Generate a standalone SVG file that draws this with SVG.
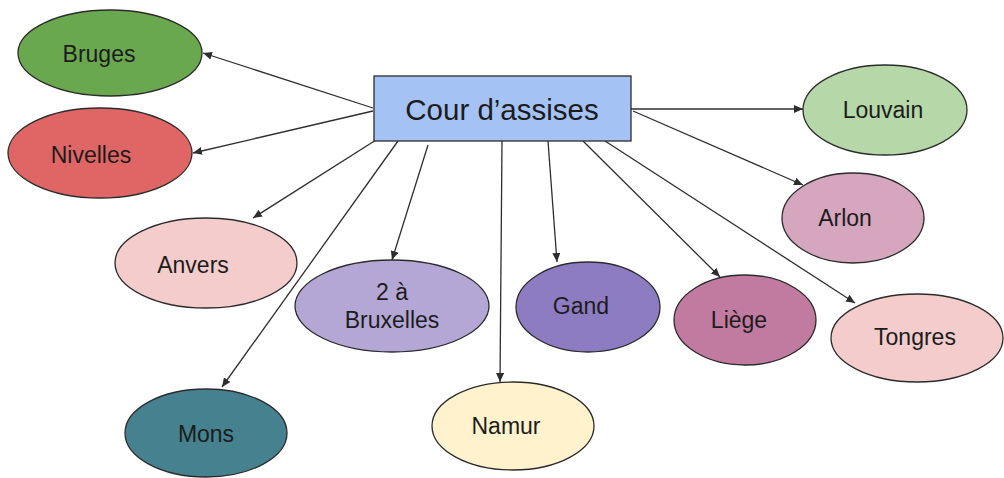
<svg xmlns="http://www.w3.org/2000/svg" width="1004" height="478" viewBox="0 0 1004 478">
  <style>
    .node ellipse { stroke: #2b2b2b; stroke-width: 1.3; }
    .lbl { font-family: "Liberation Sans", Arial, sans-serif; font-size: 23px; fill: #1c1c1c; text-anchor: middle; }
    .title { font-family: "Liberation Sans", Arial, sans-serif; font-size: 29.5px; fill: #1c1c1c; text-anchor: middle; }
    .edge { stroke: #2e2e2e; stroke-width: 1.3; fill: none; marker-end: url(#arr); }
  </style>
  <defs>
    <marker id="arr" markerUnits="userSpaceOnUse" markerWidth="10" markerHeight="8" refX="9" refY="4" orient="auto">
      <path d="M0,0 L9,4 L0,8 Z" fill="#2e2e2e"/>
    </marker>
  </defs>
  <rect width="1004" height="478" fill="#ffffff"/>

  <g id="connectors">
    <line class="edge" x1="373" y1="108" x2="203" y2="53"/>
    <line class="edge" x1="373" y1="111" x2="193" y2="153"/>
    <line class="edge" x1="376" y1="140" x2="253" y2="218"/>
    <line class="edge" x1="398" y1="141" x2="222" y2="387"/>
    <line class="edge" x1="428" y1="145" x2="392" y2="260"/>
    <line class="edge" x1="502" y1="141" x2="500" y2="382"/>
    <line class="edge" x1="548" y1="141" x2="557" y2="262"/>
    <line class="edge" x1="583" y1="141" x2="720" y2="277"/>
    <line class="edge" x1="605" y1="141" x2="855" y2="303"/>
    <line class="edge" x1="631" y1="109" x2="803" y2="109"/>
    <line class="edge" x1="633" y1="111" x2="803" y2="185"/>
  </g>

  <g id="cour">
    <rect x="374" y="76" width="257" height="65" fill="#a4c2f4" stroke="#2b2b2b" stroke-width="1.3"/>
    <text class="title" x="502" y="120">Cour d’assises</text>
  </g>
  <g id="bruges" class="node">
    <ellipse cx="110" cy="53" rx="92" ry="43" fill="#6aa84f"/>
    <text class="lbl" x="99" y="62">Bruges</text>
  </g>
  <g id="nivelles" class="node">
    <ellipse cx="100" cy="153" rx="92" ry="45" fill="#e06666"/>
    <text class="lbl" x="91" y="163">Nivelles</text>
  </g>
  <g id="anvers" class="node">
    <ellipse cx="206" cy="263" rx="91" ry="45" fill="#f4cccc"/>
    <text class="lbl" x="193" y="273">Anvers</text>
  </g>
  <g id="bruxelles" class="node">
    <ellipse cx="392" cy="306" rx="97" ry="46" fill="#b4a7d6"/>
    <text class="lbl" x="392" y="300">2 à</text>
    <text class="lbl" x="392" y="328">Bruxelles</text>
  </g>
  <g id="mons" class="node">
    <ellipse cx="206" cy="433" rx="81" ry="44" fill="#45818e"/>
    <text class="lbl" x="206" y="442">Mons</text>
  </g>
  <g id="namur" class="node">
    <ellipse cx="513" cy="426" rx="81" ry="44" fill="#fff2cc"/>
    <text class="lbl" x="506" y="434">Namur</text>
  </g>
  <g id="gand" class="node">
    <ellipse cx="588" cy="307" rx="72" ry="45" fill="#8e7cc3"/>
    <text class="lbl" x="581" y="314">Gand</text>
  </g>
  <g id="liege" class="node">
    <ellipse cx="745" cy="320" rx="71" ry="45" fill="#c27ba0"/>
    <text class="lbl" x="739" y="328">Liège</text>
  </g>
  <g id="tongres" class="node">
    <ellipse cx="917" cy="338" rx="86" ry="44" fill="#f4cccc"/>
    <text class="lbl" x="915" y="345">Tongres</text>
  </g>
  <g id="arlon" class="node">
    <ellipse cx="853" cy="218" rx="71" ry="45" fill="#d5a6bd"/>
    <text class="lbl" x="845" y="226">Arlon</text>
  </g>
  <g id="louvain" class="node">
    <ellipse cx="885" cy="110" rx="82" ry="45" fill="#b6d7a8"/>
    <text class="lbl" x="883" y="118">Louvain</text>
  </g>
</svg>
